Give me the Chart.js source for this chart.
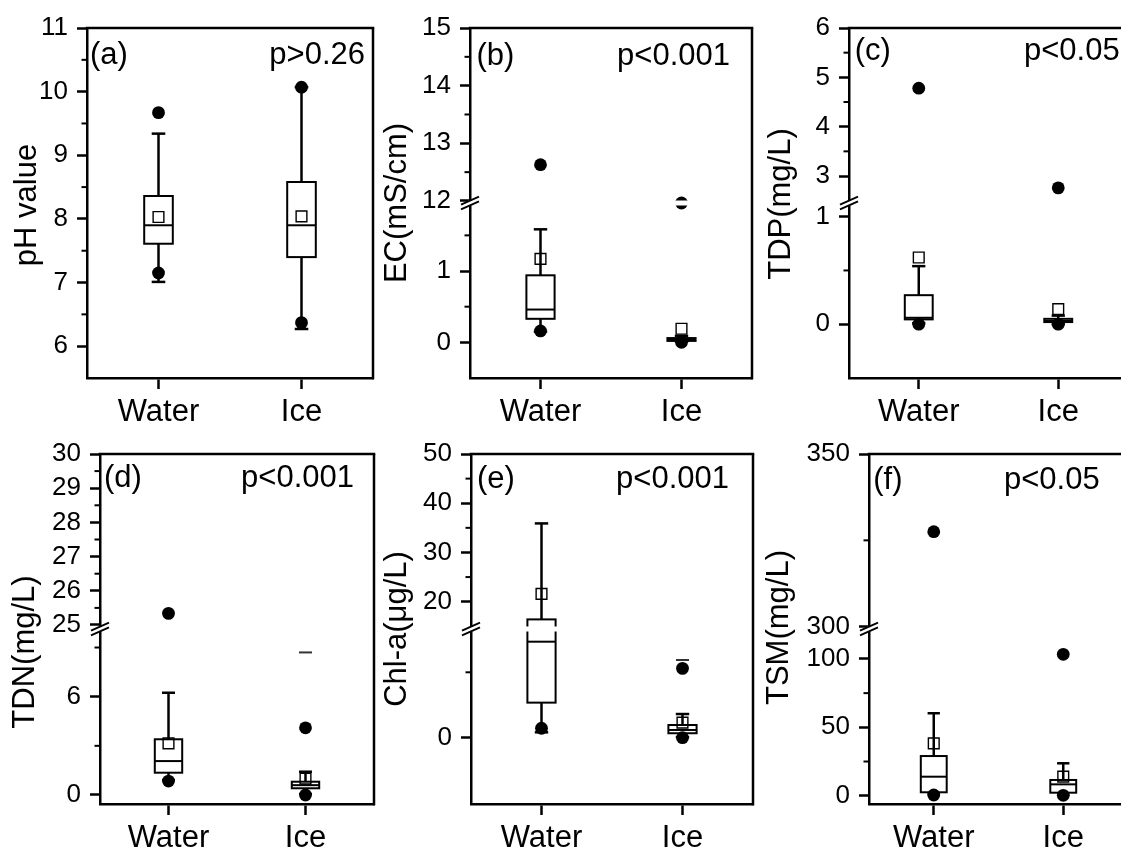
<!DOCTYPE html>
<html>
<head>
<meta charset="utf-8">
<title>Water and ice quality box plots</title>
<script src="https://cdn.jsdelivr.net/npm/chart.js@4.4.1/dist/chart.umd.min.js"></script>
<style>
  html, body { margin: 0; padding: 0; background: #fff; }
  body { position: relative; width: 1121px; height: 852px; overflow: hidden; }
  canvas { position: absolute; }
</style>
</head>
<body>
<script>
const FONT = '"Liberation Sans", Arial, Helvetica, sans-serif';
const categories = ['Water', 'Ice'];

// Box statistics per category: [lower whisker, Q1, median, Q3, upper whisker]
// (a) pH
const phBoxes = [[7.01, 7.61, 7.90, 8.36, 9.34], [6.27, 7.40, 7.90, 8.58, 10.07]];
const phMeans = [8.03, 8.04];
const phOutliers = [[9.67, 7.15], [10.07, 6.37]];
const phTicks = [6, 7, 8, 9, 10, 11];
const phMinor = [6.5, 7.5, 8.5, 9.5, 10.5];

// (b) EC
const ecBoxes = [[0.15, 0.33, 0.46, 0.94, 1.585], [0.01, 0.02, 0.04, 0.06, 0.09]];
const ecMeans = [1.17, 0.19];
const ecOutliers = [[12.63, 0.16], [11.965, 0.0]];
const ecTicksLow = [0, 1];
const ecMinorLow = [0.5, 1.5];
const ecTicksHigh = [12, 13, 14, 15];
const ecMinorHigh = [12.5, 13.5, 14.5];

// (c) TDP
const tdpBoxes = [[0.01, 0.045, 0.06, 0.27, 0.54], [0.0, 0.02, 0.03, 0.05, 0.08]];
const tdpMeans = [0.62, 0.14];
const tdpOutliers = [[4.78, 0.0], [2.76, 0.0]];
const tdpTicksLow = [0, 1];
const tdpMinorLow = [0.5];
const tdpTicksHigh = [3, 4, 5, 6];
const tdpMinorHigh = [3.5, 4.5, 5.5];

// (d) TDN
const tdnBoxes = [[0.9, 1.36, 2.07, 3.4, 6.24], [0.05, 0.41, 0.6, 0.81, 1.42]];
const tdnMeans = [3.15, 1.0];
const tdnOutliers = [[25.34, 0.85], [4.1, 0.0]];
const tdnMax = [null, 8.7];
const tdnTicksLow = [0, 6];
const tdnMinorLow = [3, 9];
const tdnTicksHigh = [25, 26, 27, 28, 29, 30];
const tdnMinorHigh = [25.5, 26.5, 27.5, 28.5, 29.5];

// (e) Chl-a
const chlBoxes = [[0.41, 2.68, 7.34, 16.4, 35.9], [0.05, 0.34, 0.59, 0.97, 1.81]];
const chlMeans = [21.6, 1.15];
const chlOutliers = [[0.72], [5.3, 0.0]];
const chlMax = [null, 5.94];
const chlTicksLow = [0];
const chlMinorLow = [5];
const chlTicksHigh = [20, 30, 40, 50];
const chlMinorHigh = [25, 35, 45];

// (f) TSM
const tsmBoxes = [[1.0, 2.5, 13.9, 29, 60.3], [0.5, 2.2, 8.3, 11.5, 23.7]];
const tsmMeans = [38.3, 13.9];
const tsmOutliers = [[327.5, 0.5], [103.4, 0.3]];
const tsmTicksLow = [0, 50, 100];
const tsmMinorLow = [25, 75];
const tsmTicksHigh = [300, 350];
const tsmMinorHigh = [325];

const panelLetters = ['(a)', '(b)', '(c)', '(d)', '(e)', '(f)'];
const pValues = ['p>0.26', 'p<0.001', 'p<0.05', 'p<0.001', 'p<0.001', 'p<0.05'];
const yTitles = ['pH value', 'EC(mS/cm)', 'TDP(mg/L)', 'TDN(mg/L)', 'Chl-a(\u03bcg/L)', 'TSM(mg/L)'];

// Layout constants (px)
const YW = 120, PT = 30, PR = 12, XH = 60, PLOT_H = 350;

// Panel layout: plot-area position on the page, axis segments (bottom first) and text anchors
const panels = [
  { left: 87, top: 28, width: 286,
    boxes: phBoxes, means: phMeans, outliers: phOutliers,
    segments: [{ id: 'y', min: 5.5, max: 11, ticks: phTicks, minor: phMinor }],
    letterX: 90, pX: 365, textY: 63.5, titleX: 27, titleY: 205 },
  { left: 470, top: 28, width: 282,
    boxes: ecBoxes, means: ecMeans, outliers: ecOutliers,
    segments: [{ id: 'yL', min: -0.5, max: 1.954, ticks: ecTicksLow, minor: ecMinorLow },
               { id: 'yU', min: 11.965, max: 15, ticks: ecTicksHigh, minor: ecMinorHigh }],
    letterX: 476.5, pX: 730, textY: 64.5, titleX: 397, titleY: 203 },
  { left: 849.3, top: 28, width: 279,
    boxes: tdpBoxes, means: tdpMeans, outliers: tdpOutliers,
    segments: [{ id: 'yL', min: -0.5, max: 1.127, ticks: tdpTicksLow, minor: tdpMinorLow },
               { id: 'yU', min: 2.453, max: 6, ticks: tdpTicksHigh, minor: tdpMinorHigh }],
    letterX: 855, pX: 1120, textY: 59.5, titleX: 782, titleY: 204 },
  { left: 99.5, top: 454, width: 274,
    boxes: tdnBoxes, means: tdnMeans, outliers: tdnOutliers, extremes: tdnMax,
    segments: [{ id: 'yL', min: -0.55, max: 10.13, ticks: tdnTicksLow, minor: tdnMinorLow },
               { id: 'yU', min: 24.883, max: 30, ticks: tdnTicksHigh, minor: tdnMinorHigh }],
    letterX: 103.5, pX: 353.5, textY: 487, titleX: 25, titleY: 652 },
  { left: 470.5, top: 454, width: 281.5,
    boxes: chlBoxes, means: chlMeans, outliers: chlOutliers, extremes: chlMax,
    segments: [{ id: 'yL', min: -5.07, max: 8.31, ticks: chlTicksLow, minor: chlMinorLow },
               { id: 'yU', min: 14.45, max: 50, ticks: chlTicksHigh, minor: chlMinorHigh }],
    letterX: 476.5, pX: 728.5, textY: 488, titleX: 397, titleY: 629 },
  { left: 869.3, top: 454, width: 259.4,
    boxes: tsmBoxes, means: tsmMeans, outliers: tsmOutliers,
    segments: [{ id: 'yL', min: -6.07, max: 121.9, ticks: tsmTicksLow, minor: tsmMinorLow },
               { id: 'yU', min: 299.33, max: 350, ticks: tsmTicksHigh, minor: tsmMinorHigh }],
    letterX: 873.5, pX: 1100, textY: 489, titleX: 780, titleY: 627.5 }
];

const circleStyle = { pointStyle: 'circle', pointRadius: 6.4, pointBackgroundColor: '#000',
                      pointBorderColor: '#000', pointBorderWidth: 0 };
const meanStyle = { pointStyle: 'rect', pointRadius: 7.6, pointBackgroundColor: 'rgba(0,0,0,0)',
                    pointBorderColor: '#000', pointBorderWidth: 1.4 };
const dashStyle = { pointStyle: 'line', pointRadius: 6.5, pointBorderColor: '#333',
                    pointBorderWidth: 2 };

function segmentOf(p, v) {
  const s = p.segments;
  return (s.length > 1 && v > s[0].max) ? s[1] : s[0];
}
function yPixel(chart, p, v) {
  return chart.scales[segmentOf(p, v).id].getPixelForValue(v);
}
function seg(ctx, x1, y1, x2, y2) {
  ctx.beginPath(); ctx.moveTo(x1, y1); ctx.lineTo(x2, y2); ctx.stroke();
}

function pointDatasets(p) {
  const out = [];
  const add = (lists, style) => {
    p.segments.forEach(s => {
      const data = [];
      lists.forEach((list, i) => (list || []).forEach(v => {
        if (v !== null && segmentOf(p, v) === s) data.push({ x: categories[i], y: v });
      }));
      if (data.length) out.push(Object.assign({ data, yAxisID: s.id, showLine: false, clip: false }, style));
    });
  };
  add(p.means.map(v => [v]), meanStyle);
  add(p.outliers, circleStyle);
  if (p.extremes) add(p.extremes.map(v => (v === null ? [] : [v])), dashStyle);
  return out;
}

function panelPlugin(p, idx, offX, offY) {
  return {
    id: 'panel' + idx,
    beforeDatasetsDraw(chart) {
      const ctx = chart.ctx, xs = chart.scales.x;
      const step = xs.getPixelForValue(1) - xs.getPixelForValue(0);
      const bw = step * 0.2, cw = step * 0.095;
      ctx.save();
      ctx.strokeStyle = '#000';
      p.boxes.forEach((b, i) => {
        const cx = xs.getPixelForValue(i);
        const [lo, q1, md, q3, hi] = b.map(v => yPixel(chart, p, v));
        ctx.lineWidth = 2.5;
        seg(ctx, cx, q3, cx, hi);
        seg(ctx, cx, q1, cx, lo);
        seg(ctx, cx - cw / 2, hi, cx + cw / 2, hi);
        seg(ctx, cx - cw / 2, lo, cx + cw / 2, lo);
        ctx.lineWidth = 2;
        ctx.fillStyle = '#fff';
        ctx.fillRect(cx - bw / 2, q3, bw, q1 - q3);
        ctx.strokeRect(cx - bw / 2, q3, bw, q1 - q3);
        seg(ctx, cx - bw / 2, md, cx + bw / 2, md);
      });
      ctx.restore();
    },
    afterDatasetsDraw(chart) {
      const ctx = chart.ctx, a = chart.chartArea;
      const L = a.left, R = a.right, T = a.top, B = a.bottom;
      ctx.save();
      ctx.strokeStyle = '#000';

      // minor ticks
      ctx.lineWidth = 2;
      p.segments.forEach(s => {
        const sc = chart.scales[s.id];
        s.minor.forEach(v => {
          const y = sc.getPixelForValue(v);
          seg(ctx, L - 5.5, y, L, y);
        });
      });

      // axis break: gap band and double slash on the left axis
      if (p.segments.length > 1) {
        const yb = chart.scales[p.segments[1].id].bottom;
        ctx.fillStyle = '#fff';
        ctx.fillRect(L - 2, yb - 2.5, R - L, 5);
        ctx.lineWidth = 2;
        [-2.4, 2.4].forEach(d => seg(ctx, L - 9, yb + d + 4, L + 9, yb + d - 4));
      }

      // top and right frame
      ctx.lineWidth = 2.5;
      seg(ctx, L - 1.25, T, R + 1.25, T);
      seg(ctx, R, T, R, B + 1.25);

      // panel letter and p value
      ctx.fillStyle = '#000';
      ctx.font = '31px ' + FONT;
      ctx.textBaseline = 'alphabetic';
      ctx.textAlign = 'left';
      ctx.fillText(panelLetters[idx], p.letterX - offX, p.textY - offY);
      ctx.textAlign = 'right';
      ctx.fillText(pValues[idx], p.pX - offX, p.textY - offY);

      // y-axis title
      ctx.translate(p.titleX - offX, p.titleY - offY);
      ctx.rotate(-Math.PI / 2);
      ctx.textAlign = 'center';
      ctx.textBaseline = 'middle';
      ctx.fillText(yTitles[idx], 0, 0);
      ctx.restore();
    }
  };
}

panels.forEach((p, idx) => {
  const W = Math.round(YW + p.width + PR), H = PT + PLOT_H + XH;
  const offX = p.left - YW, offY = p.top - PT;
  const canvas = document.createElement('canvas');
  canvas.width = W; canvas.height = H;
  canvas.style.left = offX + 'px';
  canvas.style.top = offY + 'px';
  canvas.style.width = W + 'px';
  canvas.style.height = H + 'px';
  document.body.appendChild(canvas);

  const scales = {
    x: {
      type: 'category', offset: true,
      grid: { display: true, drawOnChartArea: false, drawTicks: true, tickLength: 11,
              tickWidth: 2.5, tickColor: '#000', offset: false },
      border: { display: true, width: 2.5, color: '#000' },
      ticks: { color: '#000', font: { family: FONT, size: 31 }, padding: 5,
               autoSkip: false, maxRotation: 0 },
      afterFit: s => { s.height = XH; }
    }
  };
  const broken = p.segments.length > 1;
  p.segments.forEach((s, i) => {
    scales[s.id] = {
      type: 'linear', position: 'left', min: s.min, max: s.max,
      stack: broken ? 'broken' : undefined, stackWeight: 1, weight: i,
      afterBuildTicks: sc => { sc.ticks = s.ticks.map(v => ({ value: v })); },
      afterFit: sc => { sc.width = YW; },
      grid: { display: true, drawOnChartArea: false, drawTicks: true, tickLength: 10,
              tickWidth: 2.5, tickColor: '#000' },
      border: { display: true, width: 2.5, color: '#000' },
      ticks: { color: '#000', font: { family: FONT, size: 26 }, padding: 9,
               autoSkip: false, callback: v => String(v) }
    };
  });

  new Chart(canvas, {
    type: 'line',
    data: { labels: categories, datasets: pointDatasets(p) },
    options: {
      responsive: false,
      devicePixelRatio: 1,
      animation: false,
      events: [],
      layout: { padding: { top: PT, right: PR, left: 0, bottom: 0 } },
      plugins: { legend: { display: false }, tooltip: { enabled: false } },
      scales
    },
    plugins: [panelPlugin(p, idx, offX, offY)]
  });
});
</script>
</body>
</html>
